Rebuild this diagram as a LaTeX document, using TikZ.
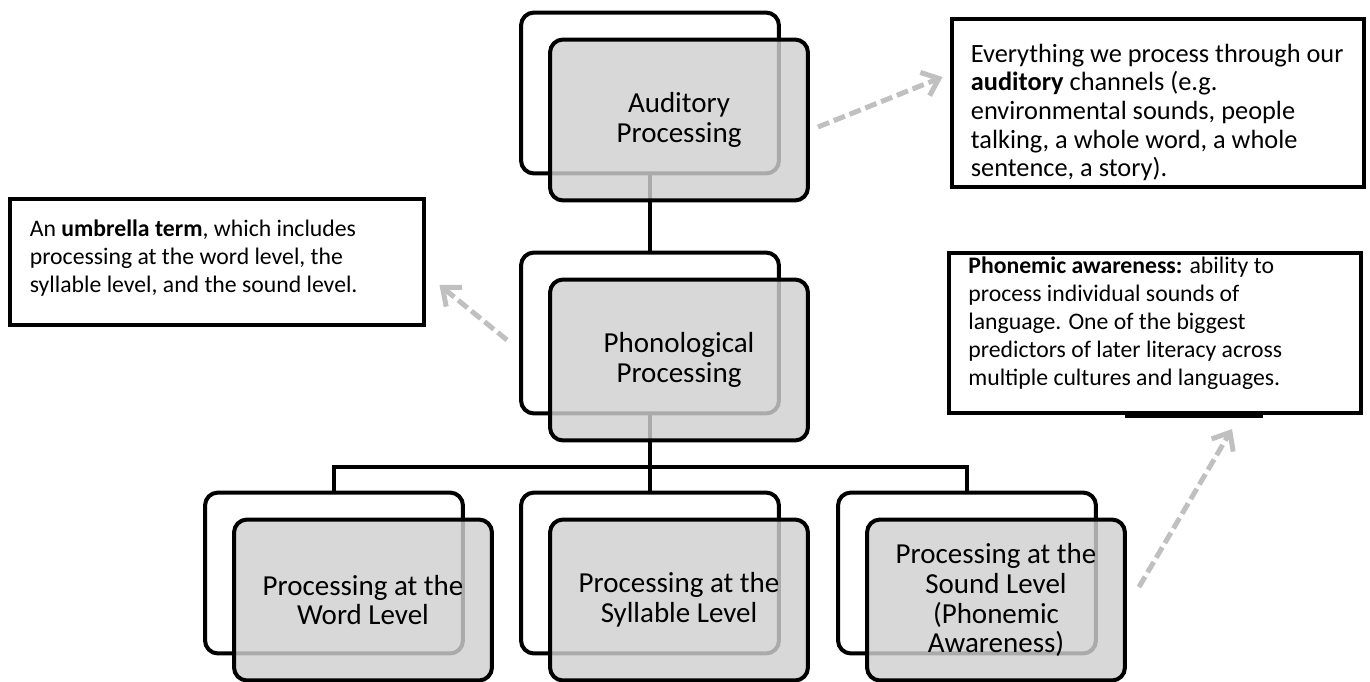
\documentclass[tikz,border=0pt]{standalone}
\usepackage{fontspec}
\setmainfont{Carlito}
\usepackage{tikz}
\usetikzlibrary{calc}
\usetikzlibrary{positioning}
\usetikzlibrary{arrows.meta}
\definecolor{boxgray}{RGB}{208,208,208}
\definecolor{hintgray}{RGB}{192,192,192}
\newcommand{\backdx}{29}
\newcommand{\backdy}{27}
\tikzstyle{back}=[
  draw,
  line width=0.08cm,
  rounded corners=0.26cm,
  fill=white,
  minimum width=5.16cm,
  minimum height=3.22cm
]
\tikzstyle{front}=[
  back,
  fill=boxgray,
  fill opacity=0.82,
  text opacity=1,
  align=center,
  font=\fontsize{16.5}{17}\selectfont
]
\tikzstyle{link}=[
  line width=0.08cm
]
\tikzstyle{note}=[
  draw,
  line width=0.08cm
]
\tikzstyle{notetext}=[
  align=left,
  anchor=north west,
  inner sep=0pt,
  font=\fontsize{13.5}{16}\selectfont
]
\tikzstyle{hint}=[
  -{Straight Barb[length=0.3cm, width=0.5cm]},
  dash pattern=on 0.24cm off 0.1cm,
  line width=0.1cm,
  hintgray
]

\begin{document}
\begin{tikzpicture}[x=0.02cm, y=-0.02cm]
  \useasboundingbox (0,0) rectangle (1370,681);

  % back boxes
  \node[back] (audB)   at (650, 93)  {};
  \node[back] (phonB)  at (650, 333) {};
  \node[back] (wordB)  at (334, 573) {};
  \node[back] (syllB)  at (650, 573) {};
  \node[back] (soundB) at (967, 573) {};

  % tree lines
  \coordinate (bus) at (650, 467);
  \draw[link] (audB) -- (phonB);
  \draw[link] (phonB) -- (bus);
  \draw[link] (bus) -- (syllB);
  \draw[link] (wordB.north) |- (bus) -| (soundB.north);

  % front boxes
  \node[front] (audF)   at ($(audB)   + (\backdx, \backdy)$) {Auditory\\Processing};
  \node[front] (phonF)  at ($(phonB)  + (\backdx, \backdy)$) {Phonological\\Processing};
  \node[front] (wordF)  at ($(wordB)  + (\backdx, \backdy)$) {Processing at the\\Word Level};
  \node[front] (syllF)  at ($(syllB)  + (\backdx, \backdy)$) {Processing at the\\Syllable Level};
  \node[front] (soundF) at ($(soundB) + (\backdx, \backdy)$) {Processing at the\\Sound Level\\(Phonemic\\Awareness)};

  % notes
  \node[note, minimum width=8.3cm,  minimum height=2.54cm] (umbNote) at (217, 262)  {};
  \node[note, minimum width=8.26cm, minimum height=3.38cm] (audNote) at (1158, 103) {};
  \node[note, minimum width=8.24cm, minimum height=3.2cm]  (phNote)  at (1155, 333) {};
  \draw[line width=0.14cm] ([shift={(-30,0)}]phNote.south) -- ([shift={(108,0)}]phNote.south);

  \node[notetext] (umbText) at ([shift={(22,23)}]umbNote.north west)
    {An \textbf{umbrella term}, which includes\\
     processing at the word level, the\\
     syllable level, and the sound level.};
  \node[notetext, font=\fontsize{15}{16.3}\selectfont] (audText) at ([shift={(21,27)}]audNote.north west)
    {Everything we process through our\\
     \textbf{auditory} channels (e.g.\\
     environmental sounds, people\\
     talking, a whole word, a whole\\
     sentence, a story).};
  \node[notetext] (phText) at ([shift={(21,5)}]phNote.north west)
    {\textbf{Phonemic awareness:} ability to\\
     process individual sounds of\\
     language. One of the biggest\\
     predictors of later literacy across\\
     multiple cultures and languages.};

  % hint arrows
  \draw[hint] ([shift={(8,7)}]audF.east)    -- ([shift={(-7,-26)}]audNote.west);
  \draw[hint] ([shift={(-12,7)}]phonB.west) -- ([shift={(13,23)}]umbNote.east);
  \draw[hint] ([shift={(12,-13)}]soundF.east) -- ([shift={(77,14)}]phNote.south);
\end{tikzpicture}
\end{document}
